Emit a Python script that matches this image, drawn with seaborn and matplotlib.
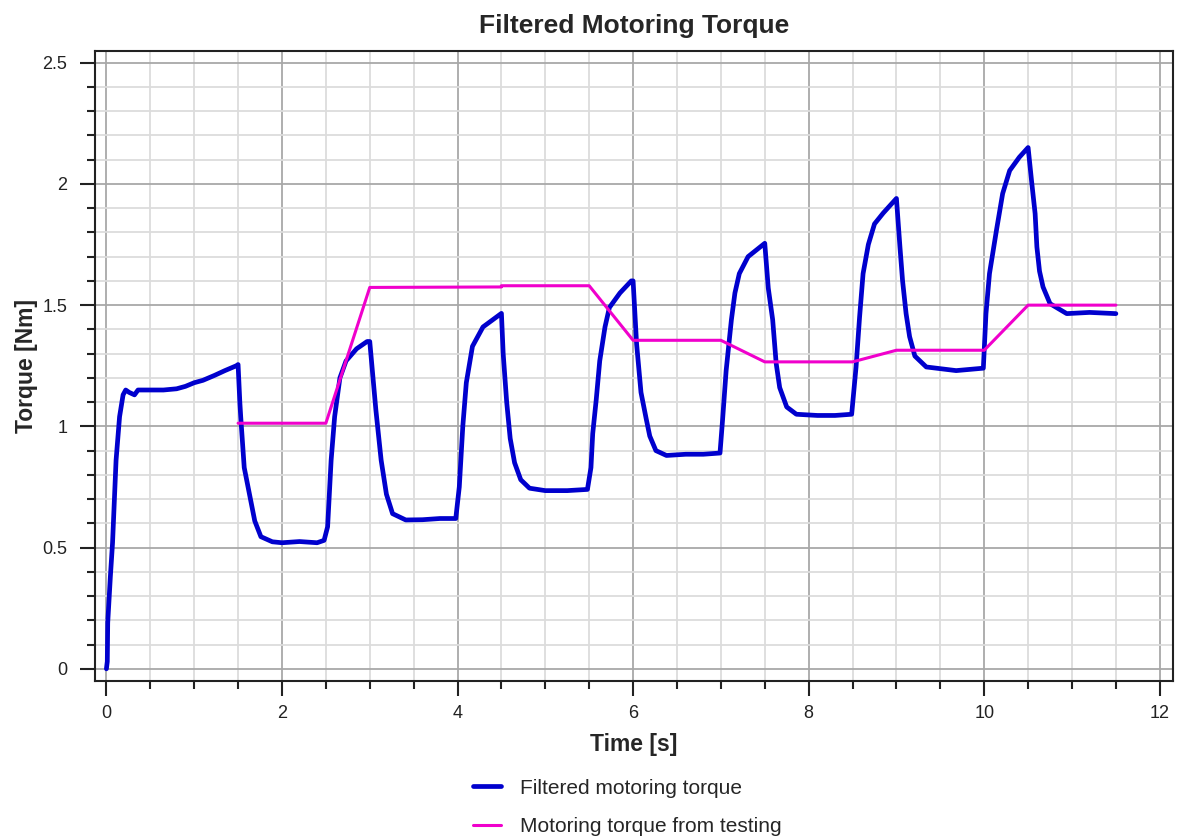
import matplotlib
matplotlib.use('Agg')
import matplotlib.pyplot as plt
import pandas as pd
import seaborn as sns
from matplotlib.ticker import MultipleLocator, FuncFormatter

# --- data ---
filt_time = [0.00, 0.01, 0.015, 0.045, 0.07, 0.11, 0.15, 0.19, 0.22, 0.26, 0.32, 0.36, 0.50, 0.65,
             0.80, 0.90, 1.00, 1.10, 1.23, 1.35, 1.48, 1.50,
             1.52, 1.53, 1.57, 1.63, 1.69, 1.76, 1.89, 2.00, 2.20, 2.40, 2.48,
             2.52, 2.56, 2.60, 2.66, 2.73, 2.85, 2.97, 3.00,
             3.02, 3.07, 3.13, 3.19, 3.26, 3.41, 3.60, 3.80, 3.98,
             4.02, 4.06, 4.10, 4.17, 4.29, 4.44, 4.50,
             4.52, 4.56, 4.60, 4.65, 4.72, 4.82, 5.00, 5.25, 5.48,
             5.52, 5.54, 5.58, 5.62, 5.68, 5.73, 5.85, 5.98, 6.00,
             6.04, 6.09, 6.15, 6.19, 6.26, 6.38, 6.60, 6.80, 6.99,
             7.02, 7.06, 7.12, 7.16, 7.21, 7.31, 7.50,
             7.54, 7.59, 7.63, 7.67, 7.75, 7.86, 8.10, 8.30, 8.49,
             8.54, 8.58, 8.62, 8.68, 8.75, 8.85, 9.00,
             9.04, 9.07, 9.11, 9.15, 9.21, 9.34, 9.68, 9.99,
             10.02, 10.06, 10.14, 10.21, 10.29, 10.40, 10.50,
             10.54, 10.58, 10.60, 10.63, 10.67, 10.75, 10.94, 11.20, 11.50]
filt_torque = [0.00, 0.03, 0.19, 0.38, 0.52, 0.86, 1.04, 1.13, 1.15, 1.14, 1.13, 1.15, 1.15, 1.15,
               1.155, 1.165, 1.18, 1.19, 1.21, 1.23, 1.25, 1.255,
               1.10, 1.04, 0.83, 0.72, 0.61, 0.545, 0.524, 0.52, 0.525, 0.52, 0.53,
               0.586, 0.86, 1.04, 1.20, 1.27, 1.32, 1.35, 1.35,
               1.27, 1.067, 0.86, 0.72, 0.64, 0.614, 0.615, 0.62, 0.62,
               0.75, 1.00, 1.18, 1.33, 1.41, 1.45, 1.466,
               1.30, 1.10, 0.95, 0.85, 0.78, 0.745, 0.735, 0.735, 0.74,
               0.83, 0.97, 1.11, 1.27, 1.41, 1.49, 1.55, 1.60, 1.60,
               1.34, 1.14, 1.03, 0.96, 0.90, 0.88, 0.885, 0.885, 0.89,
               1.03, 1.23, 1.44, 1.55, 1.63, 1.70, 1.755,
               1.57, 1.44, 1.26, 1.16, 1.08, 1.05, 1.045, 1.045, 1.05,
               1.245, 1.45, 1.63, 1.75, 1.835, 1.88, 1.94,
               1.74, 1.60, 1.465, 1.37, 1.29, 1.245, 1.23, 1.24,
               1.465, 1.63, 1.81, 1.96, 2.055, 2.11, 2.15,
               2.01, 1.877, 1.74, 1.64, 1.575, 1.506, 1.465, 1.47, 1.465]

test_time = [1.5, 2.5, 3.0, 4.5, 4.5, 5.5, 6.0, 7.0, 7.5, 8.5, 9.0, 10.0, 10.5, 11.5]
test_torque = [1.013, 1.013, 1.573, 1.575, 1.58, 1.58, 1.355, 1.355, 1.266, 1.266, 1.314, 1.314, 1.50, 1.50]

labels = ['Filtered motoring torque', 'Motoring torque from testing']

df_filt = pd.DataFrame({'Time': filt_time, 'Torque': filt_torque})
df_test = pd.DataFrame({'Time': test_time, 'Torque': test_torque})

# --- setup ---
sns.set_style('ticks')
plt.rcParams['font.family'] = ['Liberation Sans', 'DejaVu Sans']

fig = plt.figure(figsize=(11.83, 8.38), dpi=100)
ax = fig.add_axes([0.0803, 0.1874, 0.9112, 0.7517])

sns.lineplot(data=df_filt, x='Time', y='Torque', sort=False, estimator=None,
             color='#0000CD', lw=3.4, ax=ax, label=labels[0])
sns.lineplot(data=df_test, x='Time', y='Torque', sort=False, estimator=None,
             color='#F000CC', lw=2.2, ax=ax, label=labels[1])

ax.set_xlim(-0.13, 12.15)
ax.set_ylim(-0.05, 2.548)

ax.xaxis.set_major_locator(MultipleLocator(2))
ax.xaxis.set_minor_locator(MultipleLocator(0.5))
ax.yaxis.set_major_locator(MultipleLocator(0.5))
ax.yaxis.set_minor_locator(MultipleLocator(0.1))
ax.yaxis.set_major_formatter(FuncFormatter(lambda v, p: f'{v:g}'))

ax.set_axisbelow(True)
ax.grid(which='minor', color='#DCDCDC', lw=1.3)
ax.grid(which='major', color='#A8A8A8', lw=1.3)

ax.tick_params(which='major', direction='out', length=11, width=1.5, color='#222222',
               labelsize=13, labelcolor='#222222')
ax.tick_params(which='minor', direction='out', length=6, width=1.5, color='#222222')
ax.tick_params(axis='y', which='major', pad=9)
ax.tick_params(axis='x', which='major', pad=6)

for s in ax.spines.values():
    s.set_visible(True)
    s.set_color('#222222')
    s.set_linewidth(1.5)

ax.set_title('Filtered Motoring Torque', fontsize=19, fontweight='bold', pad=13)
ax.set_xlabel('Time [s]', fontsize=16.5, fontweight='bold', labelpad=8)
ax.set_ylabel('Torque [Nm]', fontsize=16.5, fontweight='bold', labelpad=3)

handles, labs = ax.get_legend_handles_labels()
ax.get_legend().remove()
fig.legend(handles, labs, loc='center', bbox_to_anchor=(0.53, 0.0365), frameon=False,
           fontsize=15, handlelength=1.35, handletextpad=0.9, labelspacing=0.95)

fig.savefig('out.png', dpi=100, facecolor='white')
